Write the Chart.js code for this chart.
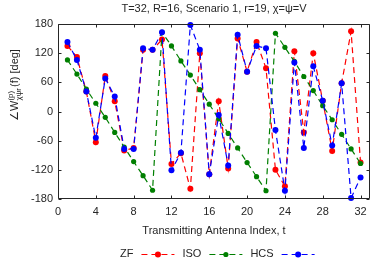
<!DOCTYPE html>
<html>
<head>
<meta charset="utf-8">
<script src="https://cdn.jsdelivr.net/npm/chart.js@4.4.1/dist/chart.umd.min.js"></script>
<style>
    html, body { margin: 0; padding: 0; background: #fff; }
</style>
</head>
<body>
<canvas id="grafico_fase" width="374" height="259"></canvas>
<script>
// dados (graus)
const antenas = [1, 2, 3, 4, 5, 6, 7, 8, 9, 10, 11, 12, 13, 14, 15, 16,
                 17, 18, 19, 20, 21, 22, 23, 24, 25, 26, 27, 28, 29, 30, 31, 32];
const faseZF  = [135, 112, 41, -63, 73, 21, -80, -75, 127, 127, 148, -108, -86, -159, 120, -129,
                 21, -117, 150, 82, 143, 89, -120, -154, 124, -43, 120, 22, -81, 58, 165, -105];
const faseISO = [106, 77, 46, 17, -12, -43, -73, -103, -132, -162, 163, 135, 104, 75, 45, 15,
                 -15, -45, -75, -105, -134, -163, 161, 132, 103, 72, 43, 12, -17, -47, -77, -107];
const faseHCS = [143, 106, 41, -54, 68, 31, -77, -77, 130, 127, 163, -121, -85, 178, 127, -129,
                 -7, -111, 158, 82, 135, 130, -38, -163, 101, -75, 93, 22, -70, 58, -178, -136];
const ticksX = [0, 4, 8, 12, 16, 20, 24, 28, 32];
const ticksY = [-180, -120, -60, 0, 60, 120, 180];
const nomes = ['ZF', 'ISO', 'HCS'];
const cores = ['#ff0000', '#007f00', '#0000ff'];
const titulo = 'T=32, R=16, Scenario 1, r=19, \u03c7=\u03c8=V';
const tituloX = 'Transmitting Antenna Index, t';

const fonte = '"Liberation Sans", Arial, sans-serif';
const corTexto = '#262626';

function pontos (valores) {
    return antenas.map((t, i) => ({ x: t, y: valores[i] }));
}

function serie (i, valores) {
    return {
        label: nomes[i],
        data: pontos(valores),
        borderColor: cores[i],
        backgroundColor: cores[i],
        borderWidth: 1.2,
        borderDash: [6, 4],
        pointRadius: i == 1 ? 2.6 : 3,
        pointBorderWidth: 0,
        pointBackgroundColor: cores[i],
        tension: 0,
        clip: false,
        order: 2 - i
    };
}

// caixa, marcas internas, titulo, rotulo Y e legenda
const moldura = {
    id: 'moldura',
    afterDraw (chart) {
        const ctx = chart.ctx;
        const a = chart.chartArea;
        const sx = chart.scales.x;
        const sy = chart.scales.y;
        const L = Math.round(a.left) + 0.5;
        const R = Math.round(a.right) - 0.5;
        const T = Math.round(a.top) + 0.5;
        const B = Math.round(a.bottom) - 0.5;

        ctx.save();
        ctx.strokeStyle = corTexto;
        ctx.lineWidth = 1;
        ctx.setLineDash([]);
        ctx.beginPath();
        ctx.rect(L, T, R - L, B - T);
        ticksX.forEach(v => {
            const px = Math.round(sx.getPixelForValue(v)) + 0.5;
            ctx.moveTo(px, B); ctx.lineTo(px, B - 3);
            ctx.moveTo(px, T); ctx.lineTo(px, T + 3);
        });
        ticksY.forEach(v => {
            const py = Math.round(sy.getPixelForValue(v)) + 0.5;
            ctx.moveTo(L, py); ctx.lineTo(L + 3, py);
            ctx.moveTo(R, py); ctx.lineTo(R - 3, py);
        });
        ctx.stroke();

        ctx.fillStyle = corTexto;
        ctx.textBaseline = 'middle';
        ctx.textAlign = 'center';
        ctx.font = '11px ' + fonte;
        ctx.fillText(titulo, (a.left + a.right) / 2, 9);

        // rotulo do eixo Y com sobrescrito e subscrito
        ctx.save();
        ctx.translate(18, 85);
        ctx.rotate(-Math.PI / 2);
        ctx.textBaseline = 'alphabetic';
        ctx.textAlign = 'left';
        const p1 = '\u2220W', sup = '(p)', sub = '\u03c7\u03c8r', p2 = '(f) [deg]';
        ctx.font = '11px ' + fonte;
        const w1 = ctx.measureText(p1).width;
        const w2 = ctx.measureText(p2).width;
        ctx.font = '8px ' + fonte;
        const ws = Math.max(ctx.measureText(sup).width, ctx.measureText(sub).width);
        let x0 = -(w1 + ws + w2 + 1) / 2;
        ctx.font = '11px ' + fonte;
        ctx.fillText(p1, x0, 0);
        x0 += w1;
        ctx.font = '8px ' + fonte;
        ctx.fillText(sup, x0, -5);
        ctx.fillText(sub, x0, 3);
        x0 += ws + 1;
        ctx.font = '11px ' + fonte;
        ctx.fillText(p2, x0, 0);
        ctx.restore();

        // legenda horizontal embaixo
        ctx.font = '11px ' + fonte;
        ctx.textAlign = 'left';
        ctx.textBaseline = 'middle';
        let x = 120;
        const y = 254;
        nomes.forEach((n, i) => {
            ctx.fillStyle = corTexto;
            ctx.fillText(n, x, y);
            x += ctx.measureText(n).width + 8;
            ctx.strokeStyle = cores[i];
            ctx.lineWidth = 1.2;
            ctx.setLineDash([6, 4]);
            ctx.beginPath();
            ctx.moveTo(x, y + 0.5);
            ctx.lineTo(x + 33, y + 0.5);
            ctx.stroke();
            ctx.setLineDash([]);
            ctx.fillStyle = cores[i];
            ctx.beginPath();
            ctx.arc(x + 16.5, y + 0.5, i == 1 ? 2.6 : 3, 0, Math.PI * 2);
            ctx.fill();
            x += 33 + 8;
        });
        ctx.restore();
    }
};

const ctfase = document.getElementById('grafico_fase');

new Chart(ctfase, {
    type: 'line',
    data: {
        datasets: [
            serie(0, faseZF),
            serie(1, faseISO),
            serie(2, faseHCS)
        ]
    },
    options: {
        responsive: false,
        animation: false,
        devicePixelRatio: 1,
        layout: {
            padding: { top: 24, right: 1, left: 0, bottom: 20 }
        },
        plugins: {
            legend: { display: false },
            title: { display: false },
            tooltip: { enabled: false }
        },
        scales: {
            x: {
                type: 'linear',
                min: 0,
                max: 33,
                afterBuildTicks: (s) => { s.ticks = ticksX.map(v => ({ value: v })); },
                afterFit: (s) => { s.height = 40; },
                grid: { display: false, drawTicks: false },
                border: { display: false },
                ticks: {
                    padding: 6,
                    maxRotation: 0,
                    autoSkip: false,
                    color: corTexto,
                    font: { family: fonte, size: 11 }
                },
                title: {
                    display: true,
                    text: tituloX,
                    color: corTexto,
                    padding: { top: 0, bottom: 1 },
                    font: { family: fonte, size: 11 }
                }
            },
            y: {
                min: -180,
                max: 180,
                afterBuildTicks: (s) => { s.ticks = ticksY.map(v => ({ value: v })); },
                afterFit: (s) => { s.width = 58; },
                grid: { display: false, drawTicks: false },
                border: { display: false },
                ticks: {
                    padding: 5,
                    autoSkip: false,
                    color: corTexto,
                    font: { family: fonte, size: 11 }
                }
            }
        }
    },
    plugins: [moldura]
});
</script>
</body>
</html>
